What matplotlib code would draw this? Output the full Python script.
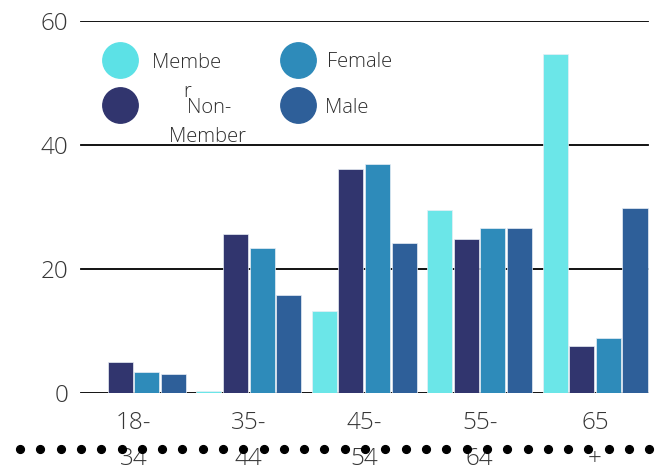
import numpy as np
import matplotlib
matplotlib.use("Agg")
import matplotlib.pyplot as plt
from matplotlib.lines import Line2D
from matplotlib.transforms import blended_transform_factory

plt.rcParams['font.family'] = ['Open Sans', 'DejaVu Sans']

categories = ["18-\n34", "35-\n44", "45-\n54", "55-\n64", "65\n+"]
series_names = ["Membe\nr", "Non-\nMember", "Female", "Male"]
member = [0.0, 0.4, 13.2, 29.5, 54.6]
non_member = [5.0, 25.6, 36.2, 24.9, 7.6]
female = [3.4, 23.4, 36.9, 26.6, 8.9]
male = [3.1, 15.8, 24.2, 26.6, 29.8]
yticks = [0, 20, 40, 60]

bar_colors = ['#6be6e8', '#31356e', '#2e8bba', '#2e5f99']
legend_colors = ['#5ce1e6', '#31356e', '#2e8bba', '#2e5f99']
text_color = '#363636'

W, H = 660, 471
fig = plt.figure(figsize=(W / 100, H / 100), dpi=100)

def px(x, y):
    return x / W, 1 - y / H

ax_left, ax_right, ax_top, ax_bottom = 75.8, 652.7, 21, 393
ax = fig.add_axes([ax_left / W, 1 - ax_bottom / H, (ax_right - ax_left) / W, (ax_bottom - ax_top) / H])

x = np.arange(len(categories))
pitch = 0.231
bw = 0.217
for i, (vals, c) in enumerate(zip([member, non_member, female, male], bar_colors)):
    ax.bar(x + (i - 1.5) * pitch, vals, width=bw, color=c, edgecolor='#e8eef5', linewidth=0.5, zorder=3)

ax.set_xlim(-0.5, len(categories) - 0.5)
ax.set_ylim(0, 60)
ax.set_yticks(yticks)
ax.set_yticklabels([str(v) for v in yticks], fontsize=17.5, color=text_color, fontweight='light')
ax.tick_params(axis='y', length=0, pad=5.4)
ax.set_xticks([])
for s in ax.spines.values():
    s.set_visible(False)

xmin = (81 - ax_left) / (ax_right - ax_left)
xmax = (648 - ax_left) / (ax_right - ax_left)
for v in yticks:
    ax.axhline(v, xmin=xmin, xmax=xmax, color='black', linewidth=1.3, zorder=2)

# x category labels (wrapped in two lines)
tr = blended_transform_factory(ax.transData, fig.transFigure)
for xi, lab in zip(x, categories):
    lines = lab.split("\n")
    for j, ln in enumerate(lines):
        yb = 429.3 + j * 35.7
        ax.text(xi, 1 - yb / H, ln, transform=tr, ha='center', va='baseline',
                fontsize=17.5, color=text_color, fontweight='light', zorder=1, clip_on=False)

# dotted decoration row
dx = np.linspace(20, 649.3, 32)
fig.add_artist(Line2D(dx / W, np.full_like(dx, 1 - 449.3 / H), transform=fig.transFigure,
                      linestyle='none', marker='o', markersize=5.6, color='black', zorder=10))

# legend
circ_pos = [(120, 60), (120, 105), (298.3, 60), (298.3, 105)]
for (cx, cy), c in zip(circ_pos, legend_colors):
    fx, fy = px(cx, cy)
    fig.add_artist(Line2D([fx], [fy], transform=fig.transFigure, linestyle='none', marker='o',
                          markersize=25.5, markerfacecolor=c, markeredgecolor=c, zorder=5))

lt = dict(fontsize=14.5, color='#2e2e2e', fontweight='light')
# Member (wrapped)
m1, m2 = series_names[0].split("\n")
fig.text(*px(151.7, 68.3), m1, ha='left', va='baseline', **lt)
fig.text(*px(187, 96.7), m2, ha='center', va='baseline', **lt)
n1, n2 = series_names[1].split("\n")
fig.text(*px(209, 113.3), n1, ha='center', va='baseline', **lt)
fig.text(*px(208, 141.7), n2, ha='center', va='baseline', **lt)
fig.text(*px(326.7, 66.7), series_names[2], ha='left', va='baseline', **lt)
fig.text(*px(325, 112.7), series_names[3], ha='left', va='baseline', **lt)

fig.savefig("out.png", dpi=100)
